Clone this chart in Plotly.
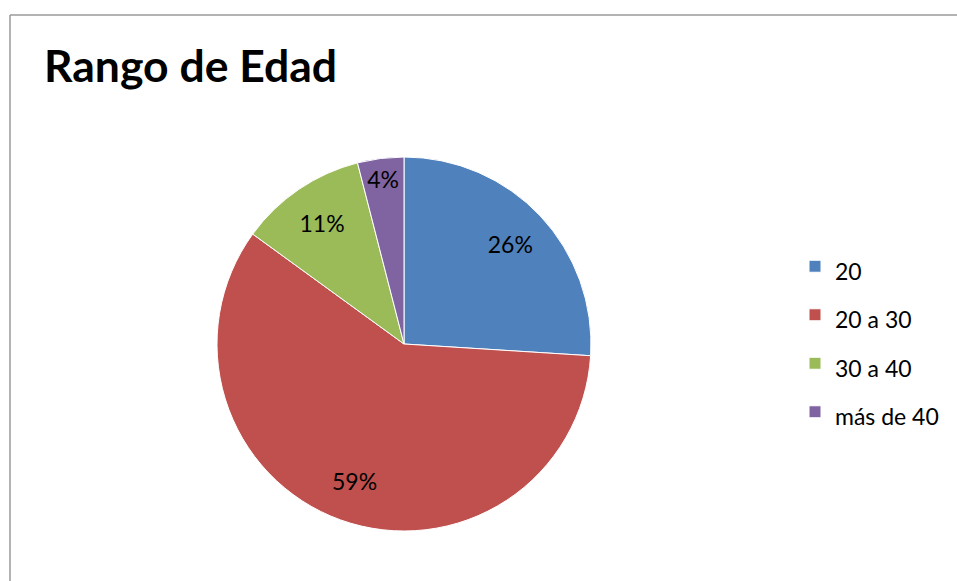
import plotly.graph_objects as go

categories = ["20", "20 a 30", "30 a 40", "más de 40"]
values = [26, 59, 11, 4]
colors = ["#4F81BD", "#C0504D", "#9BBB59", "#8064A2"]

W, H = 957, 581
FONT = "Lato"
LABEL_SIZE = 23

pie_domain = dict(x=[217 / W, 591 / W], y=[1 - 531 / H, 1 - 157 / H])
legend_labels = [f"<span style='font-size:{LABEL_SIZE}px'>{c}</span>" for c in categories]

# Coloured slices (with legend)
fig = go.Figure(go.Pie(
    labels=legend_labels,
    values=values,
    sort=False,
    direction="clockwise",
    rotation=0,
    marker=dict(colors=colors, line=dict(color="white", width=1)),
    textinfo="none",
    domain=pie_domain,
    hovertext=categories,
    hoverinfo="text+percent",
))

# Transparent ring on top, only to place the percentage labels at ~0.78 R
fig.add_trace(go.Pie(
    labels=categories,
    values=values,
    sort=False,
    direction="clockwise",
    rotation=0,
    hole=0.56,
    marker=dict(colors=["rgba(0,0,0,0)"] * len(values), line=dict(width=0)),
    texttemplate="%{percent:.0%}",
    textposition="inside",
    insidetextorientation="horizontal",
    textfont=dict(family=FONT, size=LABEL_SIZE, color="black"),
    domain=pie_domain,
    showlegend=False,
    hoverinfo="skip",
))

fig.update_layout(
    width=W, height=H,
    margin=dict(l=0, r=0, t=0, b=0),
    paper_bgcolor="white",
    plot_bgcolor="white",
    uniformtext=dict(minsize=LABEL_SIZE, mode="show"),
    title=dict(
        text="<b>Rango de Edad</b>",
        font=dict(family=FONT, size=44.5, color="black"),
        x=44 / W, xanchor="left", xref="paper",
        y=1 - 51 / H, yanchor="top", yref="paper",
    ),
    legend=dict(
        x=795 / W, xanchor="left",
        y=1 - 339 / H, yanchor="middle",
        font=dict(family=FONT, size=35, color="black"),
        tracegroupgap=0,
    ),
    showlegend=True,
    shapes=[
        dict(type="line", xref="paper", yref="paper",
             x0=10 / W, x1=1.0, y0=1 - 15 / H, y1=1 - 15 / H,
             line=dict(color="#9a9a9a", width=1.5)),
        dict(type="line", xref="paper", yref="paper",
             x0=10 / W, x1=10 / W, y0=0, y1=1 - 15 / H,
             line=dict(color="#9a9a9a", width=1.5)),
    ],
)

fig.write_html("out.html", config={"displayModeBar": False},
               post_script="document.body.style.margin='0';")
